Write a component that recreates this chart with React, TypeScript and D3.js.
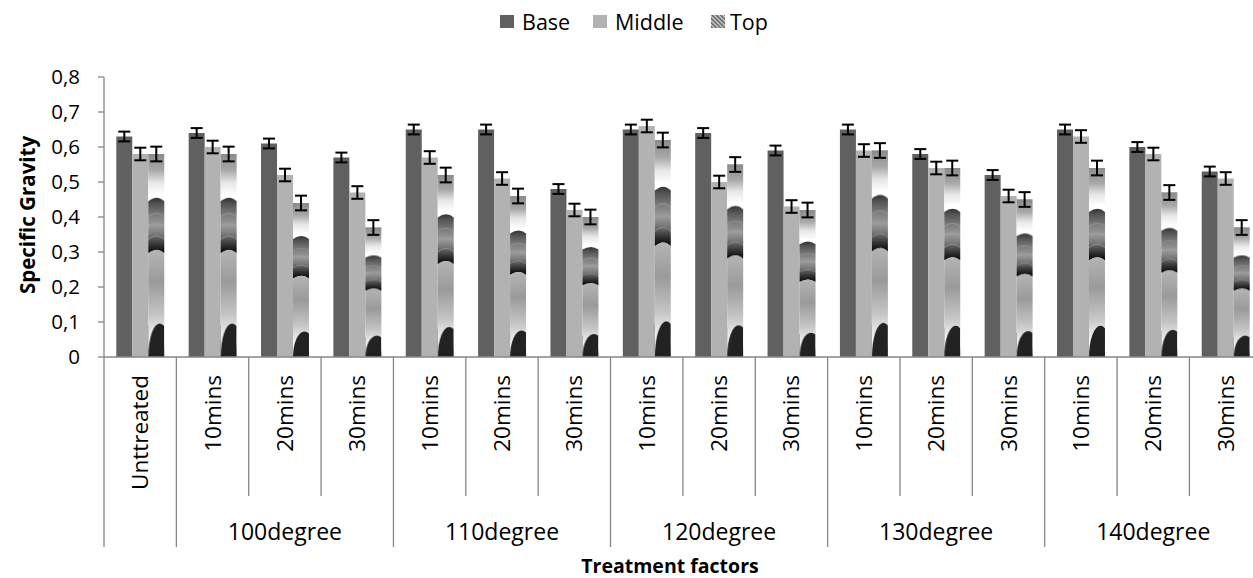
import { useEffect, useRef } from 'react';
import * as d3 from 'd3';

const categories = [
  'Unttreated',
  '10mins', '20mins', '30mins',
  '10mins', '20mins', '30mins',
  '10mins', '20mins', '30mins',
  '10mins', '20mins', '30mins',
  '10mins', '20mins', '30mins',
];
const groupLabels = ['100degree', '110degree', '120degree', '130degree', '140degree'];
const groupStart = [1, 4, 7, 10, 13];
const groupSize = 3;

const seriesNames = ['Base', 'Middle', 'Top'];
const baseValues = [0.63, 0.64, 0.61, 0.57, 0.65, 0.65, 0.48, 0.65, 0.64, 0.59, 0.65, 0.58, 0.52, 0.65, 0.6, 0.53];
const middleValues = [0.58, 0.6, 0.52, 0.47, 0.57, 0.51, 0.42, 0.66, 0.5, 0.43, 0.59, 0.54, 0.46, 0.63, 0.58, 0.51];
const topValues = [0.58, 0.58, 0.44, 0.37, 0.52, 0.46, 0.4, 0.62, 0.55, 0.42, 0.59, 0.54, 0.45, 0.54, 0.47, 0.37];
const baseErr = [0.014, 0.014, 0.014, 0.014, 0.014, 0.014, 0.014, 0.014, 0.014, 0.014, 0.014, 0.014, 0.014, 0.014, 0.014, 0.014];
const middleErr = [0.018, 0.018, 0.018, 0.018, 0.018, 0.018, 0.018, 0.018, 0.018, 0.018, 0.018, 0.018, 0.018, 0.018, 0.018, 0.018];
const topErr = [0.021, 0.021, 0.021, 0.021, 0.021, 0.021, 0.021, 0.021, 0.021, 0.021, 0.021, 0.021, 0.021, 0.021, 0.021, 0.021];

const yTicks = [0, 0.1, 0.2, 0.3, 0.4, 0.5, 0.6, 0.7, 0.8];

const FONT = '"Open Sans", "Noto Sans", sans-serif';
const AXIS = '#868686';

export default function App() {
  const svgRef = useRef<SVGSVGElement>(null);
  const width = 1253;
  const height = 578;

  useEffect(() => {
    document.body.style.margin = '0';
    const svg = d3.select(svgRef.current);
    svg.selectAll('*').remove();

    const left = 104;
    const right = 1262;
    const plotTop = 77;
    const plotBottom = 357;

    const x0 = d3.scaleBand<number>()
      .domain(d3.range(categories.length))
      .range([left, right])
      .paddingInner(0.337)
      .paddingOuter(0.17);
    const x1 = d3.scaleBand<string>()
      .domain(seriesNames)
      .range([0, x0.bandwidth()]);
    const y = d3.scaleLinear().domain([0, 0.8]).range([plotBottom, plotTop]);
    const step = x0.step();
    const edge = (i: number) => left + i * step;

    // texture for the Top series, stretched over each bar
    const defs = svg.append('defs');
    const lg = (id: string, stops: [number, string][]) => {
      const g = defs.append('linearGradient').attr('id', id)
        .attr('x1', 0).attr('y1', 0).attr('x2', 0).attr('y2', 1);
      stops.forEach(([o, c]) => g.append('stop').attr('offset', o).attr('stop-color', c));
    };
    lg('gTop', [[0, '#8a8a8a'], [0.08, '#a8a8a8'], [0.14, '#e6e6e6'], [0.2, '#ffffff'], [1, '#ffffff']]);
    lg('gBand', [[0, '#333333'], [0.12, '#555555'], [0.3, '#7a7a7a'], [0.5, '#9a9a9a'], [0.65, '#7a7a7a'], [0.82, '#3a3a3a'], [0.95, '#111111'], [1, '#0c0c0c']]);
    lg('gLow', [[0, '#b4b4b4'], [0.3, '#9a9a9a'], [0.6, '#c4c4c4'], [0.88, '#ffffff'], [1, '#ffffff']]);

    const pat = defs.append('pattern').attr('id', 'topFill')
      .attr('patternUnits', 'objectBoundingBox')
      .attr('patternContentUnits', 'objectBoundingBox')
      .attr('width', 1).attr('height', 1);
    const arc = (yy: number, d = 0.018) => `M0,${yy + d} Q0.55,${yy - d} 1,${yy + d}`;
    pat.append('rect').attr('width', 1).attr('height', 1).attr('fill', 'url(#gTop)');
    pat.append('path').attr('d', `${arc(0.215)} L1,0.49 Q0.55,0.455 0,0.49 Z`).attr('fill', 'url(#gBand)');
    pat.append('path').attr('d', `${arc(0.472)} L1,1 L0,1 Z`).attr('fill', 'url(#gLow)');
    [0.29, 0.34, 0.4].forEach(r => {
      pat.append('path')
        .attr('d', `M0,${r + 0.018} Q0.55,${r - 0.018} 1,${r + 0.018} L1,${r + 0.024} Q0.55,${r - 0.012} 0,${r + 0.024} Z`)
        .attr('fill', '#a5a5a5').attr('opacity', 0.5);
    });
    pat.append('ellipse').attr('cx', 0.72).attr('cy', 1.0).attr('rx', 0.72).attr('ry', 0.165).attr('fill', '#222');

    // small hatch used for the legend key of Top
    const hatch = defs.append('pattern').attr('id', 'topKey')
      .attr('patternUnits', 'userSpaceOnUse')
      .attr('width', 3).attr('height', 3)
      .attr('patternTransform', 'rotate(-45)');
    hatch.append('rect').attr('width', 3).attr('height', 3).attr('fill', '#d0d0d0');
    hatch.append('rect').attr('width', 1.4).attr('height', 3).attr('fill', '#555');

    const fills: Record<string, string> = { Base: '#606060', Middle: '#b2b2b2', Top: 'url(#topFill)' };
    const keyFills: Record<string, string> = { Base: '#606060', Middle: '#b2b2b2', Top: 'url(#topKey)' };
    const valuesBy: Record<string, number[]> = { Base: baseValues, Middle: middleValues, Top: topValues };
    const errBy: Record<string, number[]> = { Base: baseErr, Middle: middleErr, Top: topErr };

    // y axis
    svg.append('line')
      .attr('x1', left).attr('x2', left).attr('y1', y(0.8)).attr('y2', plotBottom)
      .attr('stroke', AXIS).attr('stroke-width', 1.3);
    yTicks.forEach(t => {
      svg.append('line')
        .attr('x1', left - 6).attr('x2', left).attr('y1', y(t)).attr('y2', y(t))
        .attr('stroke', AXIS).attr('stroke-width', 1.3);
      svg.append('text')
        .attr('x', 80).attr('y', y(t)).attr('dy', '0.35em')
        .attr('text-anchor', 'end')
        .style('font-family', FONT).style('font-size', '20.5px').attr('fill', '#000')
        .text(t === 0 ? '0' : d3.format('.1f')(t).replace('.', ','));
    });

    // bars
    seriesNames.forEach(s => {
      const vals = valuesBy[s];
      svg.append('g').selectAll('rect')
        .data(vals)
        .join('rect')
        .attr('x', (d, i) => (x0(i) as number) + (x1(s) as number))
        .attr('y', d => y(d))
        .attr('width', x1.bandwidth())
        .attr('height', d => plotBottom - y(d))
        .attr('fill', fills[s]);
    });

    // error bars
    seriesNames.forEach(s => {
      const vals = valuesBy[s];
      const errs = errBy[s];
      const g = svg.append('g').attr('stroke', '#000').attr('stroke-width', 2);
      vals.forEach((v, i) => {
        const cx = (x0(i) as number) + (x1(s) as number) + x1.bandwidth() / 2;
        const hi = y(v + errs[i]);
        const lo = y(v - errs[i]);
        g.append('line').attr('x1', cx).attr('x2', cx).attr('y1', hi).attr('y2', lo);
        g.append('line').attr('x1', cx - 6).attr('x2', cx + 6).attr('y1', hi).attr('y2', hi);
        g.append('line').attr('x1', cx - 6).attr('x2', cx + 6).attr('y1', lo).attr('y2', lo);
      });
    });

    // x axis line and category separators
    svg.append('line')
      .attr('x1', left).attr('x2', right).attr('y1', plotBottom).attr('y2', plotBottom)
      .attr('stroke', AXIS).attr('stroke-width', 1.3);
    const groupEdges = new Set<number>([0, 1, ...groupStart.map(g => g + groupSize)]);
    d3.range(categories.length + 1).forEach(i => {
      svg.append('line')
        .attr('x1', edge(i)).attr('x2', edge(i))
        .attr('y1', plotBottom).attr('y2', groupEdges.has(i) ? 547 : 496)
        .attr('stroke', AXIS).attr('stroke-width', 1.3);
    });

    // category labels (rotated)
    categories.forEach((c, i) => {
      const cx = (x0(i) as number) + x0.bandwidth() / 2;
      svg.append('text')
        .attr('transform', `translate(${cx},${375}) rotate(-90)`)
        .attr('text-anchor', 'end')
        .attr('dy', '0.35em')
        .style('font-family', FONT).style('font-size', '22.5px').attr('fill', '#000')
        .text(c);
    });

    // group labels
    groupLabels.forEach((gl, k) => {
      const cx = (edge(groupStart[k]) + edge(groupStart[k] + groupSize)) / 2;
      svg.append('text')
        .attr('x', cx).attr('y', 532).attr('dy', '0.35em')
        .attr('text-anchor', 'middle')
        .style('font-family', FONT).style('font-size', '23px').attr('fill', '#000')
        .text(gl);
    });

    // axis titles
    svg.append('text')
      .attr('x', 670).attr('y', 566).attr('dy', '0.35em')
      .attr('text-anchor', 'middle')
      .style('font-family', FONT).style('font-size', '19.5px').style('font-weight', 700)
      .text('Treatment factors');
    svg.append('text')
      .attr('transform', `translate(28,215) rotate(-90)`)
      .attr('text-anchor', 'middle').attr('dy', '0.35em')
      .style('font-family', FONT).style('font-size', '20.5px').style('font-weight', 700)
      .text('Specific Gravity');

    // legend
    const legendX = [500, 593, 711];
    seriesNames.forEach((s, i) => {
      const row = svg.append('g').attr('transform', `translate(${legendX[i]},15)`);
      row.append('rect').attr('width', 14).attr('height', 13).attr('fill', keyFills[s]);
      row.append('text')
        .attr('x', s === 'Top' ? 19 : 22).attr('y', 7).attr('dy', '0.35em')
        .style('font-family', FONT).style('font-size', '21.5px').attr('fill', '#000')
        .text(s);
    });
  }, []);

  return (
    <svg ref={svgRef} width={width} height={height} style={{ display: 'block', background: '#fff' }}></svg>
  );
}
